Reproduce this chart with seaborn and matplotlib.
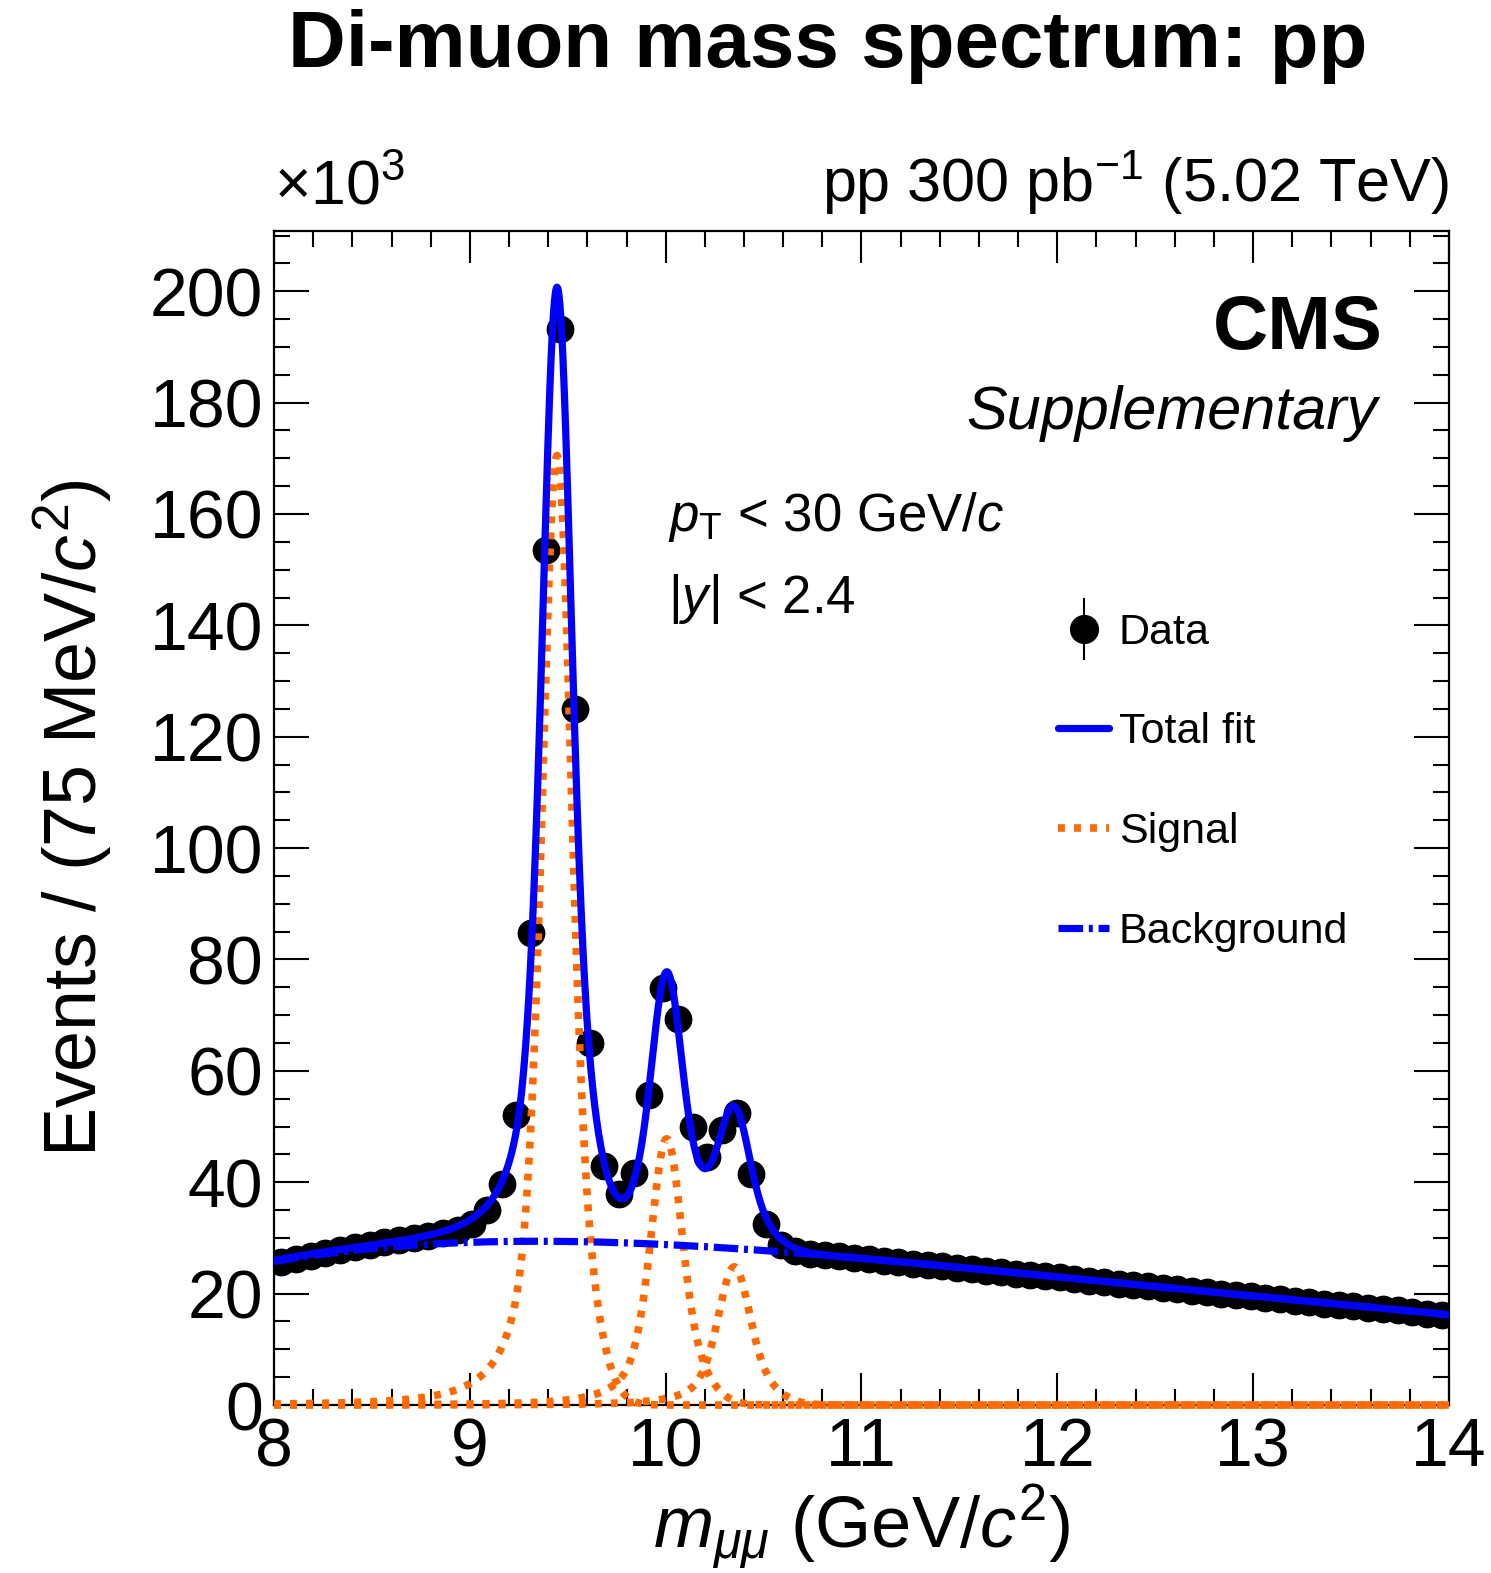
import numpy as np
import pandas as pd
import matplotlib
matplotlib.use("Agg")
import matplotlib.pyplot as plt
import seaborn as sns
from matplotlib.lines import Line2D
from matplotlib.legend_handler import HandlerTuple
from matplotlib.ticker import MultipleLocator

# ---------------------------------------------------------------- data
# 75 MeV/c^2 bins between 8 and 14 GeV/c^2
BIN_LO, BIN_HI, N_BINS = 8.0, 14.0, 80

# events per bin, in units of 10^3
events_k = [
    25.7, 26.3, 26.8, 27.3, 27.8, 28.3, 28.7, 29.2, 29.6, 30.0,
    30.4, 30.9, 31.5, 32.5, 35.0, 39.7,
    52.0, 84.7, 153.5, 193.3, 125.0, 65.0, 43.0, 37.8, 41.6, 55.6,
    74.8, 69.3, 50.0, 44.5, 49.4, 52.4, 41.5, 32.5, 28.8, 27.6,
    27.2, 26.9, 26.7, 26.4, 26.2, 25.9, 25.7, 25.4, 25.2, 24.9,
    24.6, 24.4, 24.1, 23.9, 23.6, 23.4, 23.1, 22.9, 22.6, 22.3,
    22.1, 21.8, 21.6, 21.3, 21.0, 20.8, 20.5, 20.3, 20.0, 19.8,
    19.5, 19.3, 19.0, 18.7, 18.5, 18.2, 18.0, 17.7, 17.5, 17.2,
    17.0, 16.7, 16.4, 16.2,
]

# Upsilon(1S), (2S), (3S) signal shapes:
# narrow Gaussian core + wider Crystal Ball component
peak_mean = [9.445, 10.005, 10.350]
peak_amp_k = [170.5, 47.8, 24.8]
core_sigma = [0.065, 0.069, 0.071]
wide_sigma = [0.130, 0.138, 0.142]
wide_frac = 0.37
cb_alpha = 1.3
cb_n = 3.0

# background level at reference masses (10^3 events / bin)
bkg_mass = [8.0, 8.5, 9.0, 9.5, 10.0, 10.5, 11.0, 11.5, 12.0, 12.5, 13.0, 13.5, 14.0]
bkg_k = [25.8, 28.0, 29.2, 29.4, 28.9, 27.7, 26.3, 24.7, 23.0, 21.3, 19.6, 17.9, 16.2]

x_ticks = [8, 9, 10, 11, 12, 13, 14]
y_ticks = [0, 20, 40, 60, 80, 100, 120, 140, 160, 180, 200]

# ---------------------------------------------------------------- model
edges = np.linspace(BIN_LO, BIN_HI, N_BINS + 1)
centres = 0.5 * (edges[:-1] + edges[1:])
data = pd.DataFrame({"mass": centres, "events": events_k})
data["err"] = np.sqrt(data["events"] * 1000.0) / 1000.0


def crystal_ball(x, mean, sigma, alpha, n):
    t = (x - mean) / sigma
    a = (n / alpha) ** n * np.exp(-alpha ** 2 / 2.0)
    b = n / alpha - alpha
    out = np.exp(-t ** 2 / 2.0)
    tail = t < -alpha
    out[tail] = a * (b - t[tail]) ** (-n)
    return out


def peak_shape(x, mean, s_core, s_wide):
    core = np.exp(-0.5 * ((x - mean) / s_core) ** 2)
    wide = crystal_ball(x, mean, s_wide, cb_alpha, cb_n)
    return (1.0 - wide_frac) * core + wide_frac * wide


grid = np.linspace(BIN_LO, BIN_HI, 2401)
bkg_coef = np.polyfit(bkg_mass, bkg_k, 4)
bkg_curve = np.polyval(bkg_coef, grid)
sig_curves = [amp * peak_shape(grid, m, sc, sw)
              for m, amp, sc, sw in zip(peak_mean, peak_amp_k, core_sigma, wide_sigma)]
total_curve = bkg_curve + np.sum(sig_curves, axis=0)

# ---------------------------------------------------------------- style
sns.set_style("ticks")
plt.rcParams["font.family"] = ["Liberation Sans", "DejaVu Sans"]
plt.rcParams["mathtext.fontset"] = "custom"
plt.rcParams["mathtext.rm"] = "Liberation Sans"
plt.rcParams["mathtext.it"] = "Liberation Sans:italic"
plt.rcParams["mathtext.bf"] = "Liberation Sans:bold"
for key in ["text.color", "axes.labelcolor", "xtick.color", "ytick.color",
            "axes.edgecolor"]:
    plt.rcParams[key] = "black"

BLUE = "#0000ff"
ORANGE = "#ff6a00"
LW = 5.2
SIG_LW = 5.5
SIG_STYLE = (0, (0.9, 1.2))
BKG_STYLE = (0, (3.4, 0.8, 0.55, 0.8))

fig = plt.figure(figsize=(14.91, 15.73), dpi=100)
ax = fig.add_axes([0.1838, 0.1068, 0.7880, 0.7463])

# data points
ax.errorbar(data["mass"], data["events"], yerr=data["err"], fmt="none",
            ecolor="black", elinewidth=1.5, zorder=2)
sns.scatterplot(data=data, x="mass", y="events", ax=ax, color="black",
                s=20 ** 2, linewidth=0, zorder=2, legend=False)

# fit components
sns.lineplot(x=grid, y=total_curve, ax=ax, color=BLUE, linewidth=LW,
             estimator=None, sort=False, zorder=5)
for curve in sig_curves:
    sns.lineplot(x=grid, y=curve, ax=ax, color=ORANGE, linewidth=SIG_LW,
                 linestyle=SIG_STYLE, estimator=None, sort=False,
                 zorder=4, clip_on=False)
sns.lineplot(x=grid, y=bkg_curve, ax=ax, color=BLUE, linewidth=LW,
             linestyle=BKG_STYLE, estimator=None, sort=False, zorder=6)

# axes
ax.set_xlim(BIN_LO, BIN_HI)
ax.set_ylim(0, 210.8)
ax.set_xticks(x_ticks)
ax.set_yticks(y_ticks)
ax.xaxis.set_minor_locator(MultipleLocator(0.2))
ax.yaxis.set_minor_locator(MultipleLocator(5))
ax.tick_params(which="both", direction="in", top=True, right=True,
               width=1.5, color="black")
ax.tick_params(which="major", axis="x", length=23, labelsize=49, pad=8)
ax.tick_params(which="major", axis="y", length=25, labelsize=49, pad=8)
ax.tick_params(which="minor", length=11.5)
for sp in ax.spines.values():
    sp.set_linewidth(1.6)
    sp.set_color("black")

ax.set_xlabel(r"$m_{\mu\mu}$ (GeV/$c^{2}$)", fontsize=52)
ax.set_ylabel(r"Events / (75 MeV/$c^{2}$)", fontsize=53)
ax.xaxis.set_label_coords(0.5, -0.066)
ax.yaxis.set_label_coords(-0.136, 0.5)

# annotations
fig.text(828 / 1491, 1 - 47 / 1573, "Di-muon mass spectrum: pp",
         ha="center", va="center", fontsize=57.5, fontweight="bold")
ax.text(0.0, 1.012, "×10$^{3}$", transform=ax.transAxes, ha="left",
        va="bottom", fontsize=45)
ax.text(1.0, 1.012, "pp 300 pb$^{-1}$ (5.02 TeV)", transform=ax.transAxes,
        ha="right", va="bottom", fontsize=44)
ax.text(0.944, 0.9165, "CMS", transform=ax.transAxes, ha="right",
        va="center", fontsize=55, fontweight="bold")
ax.text(0.9396, 0.845, "Supplementary", transform=ax.transAxes, ha="right",
        va="center", fontsize=44, fontstyle="italic")
ax.text(0.335, 0.7564, r"$p_{\mathrm{T}}$ < 30 GeV/$c$",
        transform=ax.transAxes, ha="left", va="center", fontsize=38)
ax.text(0.335, 0.6865, r"|$y$| < 2.4",
        transform=ax.transAxes, ha="left", va="center", fontsize=38)

# legend
data_handle = (Line2D([], [], ls="none", marker="|", ms=44, mew=1.5, color="black"),
               Line2D([], [], ls="none", marker="o", ms=20, color="black"))
handles = [
    data_handle,
    Line2D([], [], color=BLUE, lw=LW),
    Line2D([], [], color=ORANGE, lw=SIG_LW, linestyle=SIG_STYLE),
    Line2D([], [], color=BLUE, lw=LW, linestyle=BKG_STYLE),
]
labels = ["Data", "Total fit", "Signal", "Background"]
ax.legend(handles, labels, handler_map={tuple: HandlerTuple(ndivide=1)},
          loc="upper left", bbox_to_anchor=(0.667, 0.675), frameon=False,
          fontsize=31, handlelength=1.2, handletextpad=0.22,
          labelspacing=1.39, borderpad=0, borderaxespad=0)

fig.savefig("out.png", dpi=100)
